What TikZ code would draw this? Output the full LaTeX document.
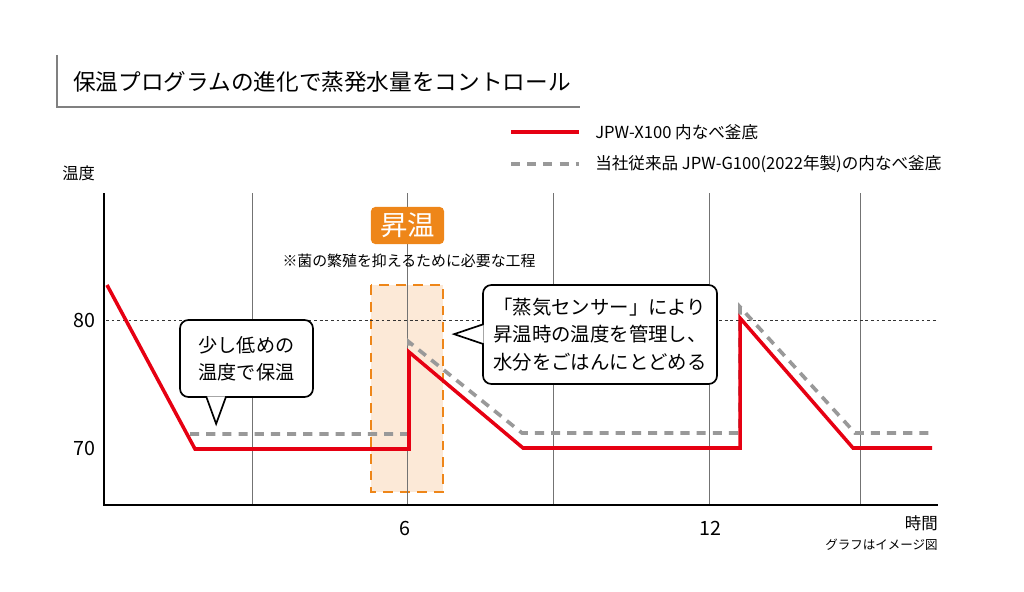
\documentclass[tikz,border=0pt]{standalone}
\usepackage{fontspec}
\setmainfont{Noto Sans CJK JP}
\usetikzlibrary{calc}
\definecolor{newred}{HTML}{E60012}
\definecolor{oldgray}{HTML}{999999}
\definecolor{heatorange}{HTML}{EE8619}
\definecolor{heatfill}{HTML}{FCE9D7}
\newcommand{\fsz}[2]{\fontsize{#1}{#2}\selectfont}

\begin{document}
\begin{tikzpicture}[x=0.025cm, y=-0.025cm,
  newline/.style={newred, line width=2.5pt},
  oldline/.style={oldgray, line width=2.6pt, dash pattern=on 6.5pt off 5pt},
  gridline/.style={black!55, line width=0.7pt},
  callout/.style={draw=black, fill=white, line width=1.2pt, rounded corners=6pt, inner sep=0pt, align=left},
  ticklabel/.style={font=\fsz{14pt}{16pt}, inner sep=0pt}]
  \useasboundingbox (0,0) rectangle (1024,591);

  \draw[black!50, line width=0.8pt] (57,55) -- (57,107) -- (580,107);
  \node[anchor=west, inner sep=0pt, font=\fsz{16.1pt}{18pt}] (TITLE) at (73,82) {保温プログラムの進化で蒸発水量をコントロール};

  \draw[newline] (511,132) -- (579,132);
  \node[anchor=west, inner sep=0pt, font=\fsz{11.8pt}{13pt}] (LEGNEW) at (595,132) {JPW-X100 内なべ釜底};
  \draw[oldline] (511,164) -- (579,164);
  \node[anchor=west, inner sep=0pt, font=\fsz{11.8pt}{13pt}] (LEGOLD) at (595,164) {当社従来品 JPW-G100(2022年製)の内なべ釜底};

  \node[anchor=west, inner sep=0pt, font=\fsz{11.6pt}{13pt}] (YLABEL) at (62,173) {温度};

  \filldraw[fill=heatfill, draw=heatorange, line width=2pt, dash pattern=on 7pt off 5pt] (371,285) rectangle (443,492);

  \draw[gridline] (252,193) -- (252,505);
  \draw[gridline] (407,193) -- (407,505);
  \draw[gridline] (553,193) -- (553,505);
  \draw[gridline] (709,193) -- (709,505);
  \draw[gridline] (860,193) -- (860,505);
  \draw[black!80, line width=0.6pt, dash pattern=on 2pt off 2pt] (106,320) -- (938,320);

  \node[fill=heatorange, text=white, rounded corners=3pt, minimum width=1.825cm, minimum height=0.925cm, inner sep=0pt, font=\fsz{19.5pt}{21pt}] (HEAT) at (407.5,225.5) {昇温};
  \node[inner sep=0pt, font=\fsz{10.6pt}{12pt}] (NOTE) at (409,261) {※菌の繁殖を抑えるために必要な工程};

  \draw[oldline] (190,434) -- (409,434) -- (409,342) -- (522,433) -- (740,433) -- (740,307) -- (855,433) -- (932,433);
  \draw[newline] (107,285) -- (195,449) -- (409,449) -- (409,352) -- (523,448) -- (740,448) -- (740,318) -- (853,448) -- (932,448);

  \draw[black, line width=2.1pt] (104,193) -- (104,505) -- (938,505);

  \node[ticklabel] (Y80) at (84,320) {80};
  \node[ticklabel] (Y70) at (84,448) {70};
  \node[ticklabel] (X6) at (405,528) {6};
  \node[ticklabel] (X12) at (710,528) {12};
  \node[anchor=east, inner sep=0pt, font=\fsz{11.7pt}{13pt}] (XLABEL) at (938,523) {時間};
  \node[anchor=east, inner sep=0pt, font=\fsz{8.9pt}{10pt}] (IMGNOTE) at (938,545) {グラフはイメージ図};

  \node[callout, align=center, minimum width=3.325cm, minimum height=1.925cm, font=\fsz{13.6pt}{19.2pt}] (LOWTEMP) at (246.5,358.5) {少し低めの\\温度で保温};
  \filldraw[fill=white, draw=black, line width=1.2pt] ($(LOWTEMP.south west)+(27,-1.5)$) -- ($(LOWTEMP.south west)+(37,26)$) -- ($(LOWTEMP.south west)+(47,-1.5)$);

  \node[callout, minimum width=5.85cm, minimum height=2.475cm, font=\fsz{13.8pt}{19.4pt}] (SENSOR) at (600,334.5) {「蒸気センサー」により\\昇温時の温度を管理し、\\水分をごはんにとどめる};
  \filldraw[fill=white, draw=black, line width=1.2pt] ($(SENSOR.north west)+(1.5,40)$) -- ($(SENSOR.north west)+(-28,50)$) -- ($(SENSOR.north west)+(1.5,60)$);
\end{tikzpicture}
\end{document}
